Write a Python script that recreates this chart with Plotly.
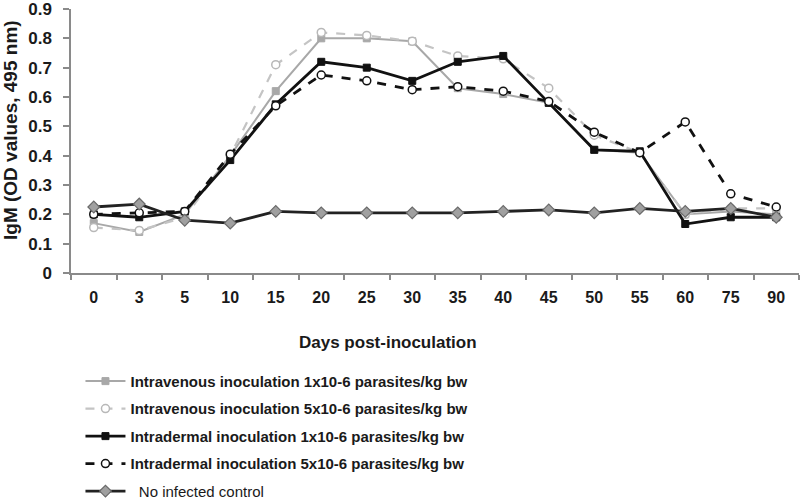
import plotly.graph_objects as go

days = ["0", "3", "5", "10", "15", "20", "25", "30", "35", "40", "45", "50", "55", "60", "75", "90"]
iv_1 = [0.17, 0.14, 0.20, 0.40, 0.62, 0.80, 0.80, 0.79, 0.63, 0.61, 0.58, 0.42, 0.41, 0.20, 0.21, 0.20]
iv_5 = [0.155, 0.145, 0.19, 0.40, 0.71, 0.82, 0.81, 0.79, 0.74, 0.73, 0.63, 0.47, 0.41, 0.20, 0.22, 0.22]
id_1 = [0.20, 0.19, 0.21, 0.385, 0.575, 0.72, 0.70, 0.655, 0.72, 0.74, 0.58, 0.42, 0.415, 0.167, 0.19, 0.19]
id_5 = [0.20, 0.205, 0.21, 0.405, 0.57, 0.675, 0.655, 0.625, 0.635, 0.62, 0.585, 0.48, 0.41, 0.515, 0.27, 0.225]
control = [0.225, 0.235, 0.18, 0.17, 0.21, 0.205, 0.205, 0.205, 0.205, 0.21, 0.215, 0.205, 0.22, 0.21, 0.22, 0.19]

y_ticks = [0, 0.1, 0.2, 0.3, 0.4, 0.5, 0.6, 0.7, 0.8, 0.9]
y_tick_labels = ["0", "0.1", "0.2", "0.3", "0.4", "0.5", "0.6", "0.7", "0.8", "0.9"]

names = [
    "<b>Intravenous inoculation 1x10-6 parasites/kg bw</b>",
    "<b>Intravenous inoculation 5x10-6 parasites/kg bw</b>",
    "<b>Intradermal inoculation 1x10-6 parasites/kg bw</b>",
    "<b>Intradermal inoculation 5x10-6 parasites/kg bw</b>",
    "&nbsp;&nbsp;No infected control",
]
x_title = "<b>Days post-inoculation</b>"
y_title = "<b>IgM (OD values, 495 nm)</b>"

FONT = "Liberation Sans, Arial, sans-serif"
TXT = "#1a1a1a"
fig = go.Figure()

fig.add_trace(go.Scatter(
    x=days, y=iv_1, name=names[0], mode="lines+markers", legendgroup="a",
    line=dict(color="#a8a8a8", width=2),
    marker=dict(symbol="square", size=7, color="#a8a8a8", line=dict(color="#a8a8a8", width=1)),
))
fig.add_trace(go.Scatter(
    x=days, y=iv_5, name=names[1], mode="lines+markers", legendgroup="b",
    line=dict(color="#c4c4c4", width=2.2, dash="dash"),
    marker=dict(symbol="circle", size=8, color="white", line=dict(color="#b8b8b8", width=1.5)),
))
fig.add_trace(go.Scatter(
    x=days, y=id_1, name=names[2], mode="lines+markers", legendgroup="c",
    line=dict(color="#111111", width=2.8),
    marker=dict(symbol="square", size=7, color="#111111", line=dict(color="#111111", width=1)),
))
fig.add_trace(go.Scatter(
    x=days, y=id_5, name=names[3], mode="lines+markers", legendgroup="d",
    line=dict(color="#111111", width=2.8, dash="dash"),
    marker=dict(symbol="circle", size=8, color="white", line=dict(color="#111111", width=1.5)),
))
fig.add_trace(go.Scatter(
    x=days, y=control, name=names[4], mode="lines+markers", legendgroup="e",
    line=dict(color="#222222", width=2.8),
    marker=dict(symbol="diamond", size=9, color="#a0a0a0", line=dict(color="#6a6a6a", width=1.2)),
))

fig.update_layout(
    width=800, height=502,
    paper_bgcolor="white", plot_bgcolor="white",
    margin=dict(l=71, r=1, t=9, b=229, autoexpand=False),
    font=dict(family=FONT, size=14, color=TXT),
    showlegend=True,
    legend=dict(
        x=0.013, y=-0.348, xanchor="left", yanchor="top",
        font=dict(family=FONT, size=15, color=TXT),
        itemwidth=40, tracegroupgap=5, bgcolor="rgba(0,0,0,0)",
    ),
    annotations=[
        dict(text=x_title, xref="paper", yref="paper", x=0.4354, y=-0.2614,
             xanchor="center", yanchor="middle", showarrow=False,
             font=dict(family=FONT, size=17, color=TXT)),
        dict(text=y_title, xref="paper", yref="paper", x=-0.0824, y=0.5417,
             xanchor="center", yanchor="middle", showarrow=False, textangle=-90,
             font=dict(family=FONT, size=19, color=TXT)),
    ],
)
fig.update_xaxes(
    type="category", categoryorder="array", categoryarray=days,
    range=[-0.5, len(days) - 0.5],
    showline=True, linecolor="#8a8a8a", linewidth=1.5,
    ticks="outside", tickson="boundaries", ticklen=5, tickcolor="#8a8a8a", tickwidth=1.5,
    showgrid=False, zeroline=False,
    tickfont=dict(family=FONT, size=16, color=TXT, weight="bold"),
    ticklabelstandoff=9,
)
fig.update_yaxes(
    range=[0, 0.9], tickmode="array", tickvals=y_ticks, ticktext=y_tick_labels,
    showline=True, linecolor="#8a8a8a", linewidth=1.5,
    ticks="outside", ticklen=6, tickcolor="#8a8a8a", tickwidth=1.5,
    showgrid=False, zeroline=False,
    tickfont=dict(family=FONT, size=17, color=TXT, weight="bold"),
    ticklabelstandoff=8, ticklabeloverflow="allow",
)

fig.write_html(
    "out.html",
    config={"displayModeBar": False},
    post_script="document.body.style.margin='0';document.body.style.padding='0';",
)
